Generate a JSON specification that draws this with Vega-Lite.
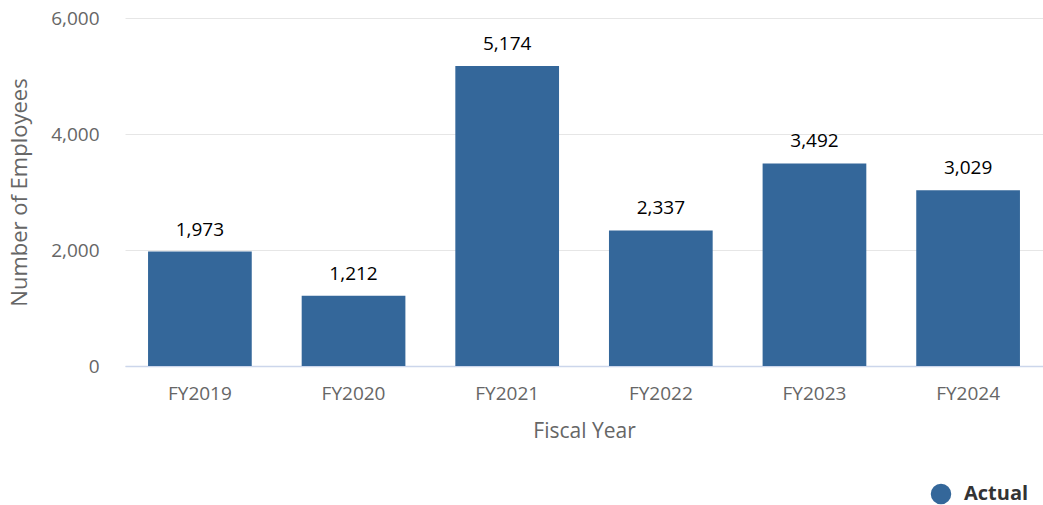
{
  "$schema": "https://vega.github.io/schema/vega-lite/v6.json",
  "autosize": "none",
  "width": 918,
  "height": 348,
  "padding": {"left": 125, "top": 18, "right": 0, "bottom": 139},
  "background": "white",
  "config": {"view": {"stroke": null}, "font": "Open Sans"},
  "data": {"values": [
    {"year": "FY2019", "employees": 1973, "series": "Actual"},
    {"year": "FY2020", "employees": 1212, "series": "Actual"},
    {"year": "FY2021", "employees": 5174, "series": "Actual"},
    {"year": "FY2022", "employees": 2337, "series": "Actual"},
    {"year": "FY2023", "employees": 3492, "series": "Actual"},
    {"year": "FY2024", "employees": 3029, "series": "Actual"}
  ]},
  "encoding": {
    "x": {"field": "year", "type": "nominal", "sort": null,
      "scale": {"paddingInner": 0.325, "paddingOuter": 0.15},
      "axis": {"title": "Fiscal Year", "labelAngle": 0, "labelFontSize": 19, "labelColor": "#666666",
        "titleFontSize": 21, "titleColor": "#666666", "titleFontWeight": "normal", "titlePadding": 17,
        "labelPadding": 18, "ticks": false, "domainColor": "#ccd6eb", "domainWidth": 1.5, "grid": false}},
    "y": {"field": "employees", "type": "quantitative",
      "scale": {"domain": [0, 6000]},
      "axis": {"title": "Number of Employees", "values": [0, 2000, 4000, 6000], "format": ",d",
        "labelFontSize": 19, "labelColor": "#666666", "labelPadding": 26, "ticks": false, "domain": false,
        "gridColor": "#e6e6e6", "titleFontSize": 22, "titleColor": "#666666", "titleFontWeight": "normal",
        "titlePadding": 19}}
  },
  "layer": [
    {"mark": {"type": "bar", "color": "#34679a"},
      "encoding": {
        "color": {"field": "series", "type": "nominal", "scale": {"range": ["#34679a"]},
          "legend": {"title": null, "orient": "none", "legendX": 805, "legendY": 465,
            "symbolType": "circle", "symbolSize": 420, "labelFontSize": 20, "labelFontWeight": "bold",
            "labelColor": "#333333", "labelOffset": 12}}
      }},
    {"mark": {"type": "text", "dy": -22, "fontSize": 19, "color": "#000000"},
      "encoding": {"text": {"field": "employees", "type": "quantitative", "format": ",d"}}}
  ]
}
